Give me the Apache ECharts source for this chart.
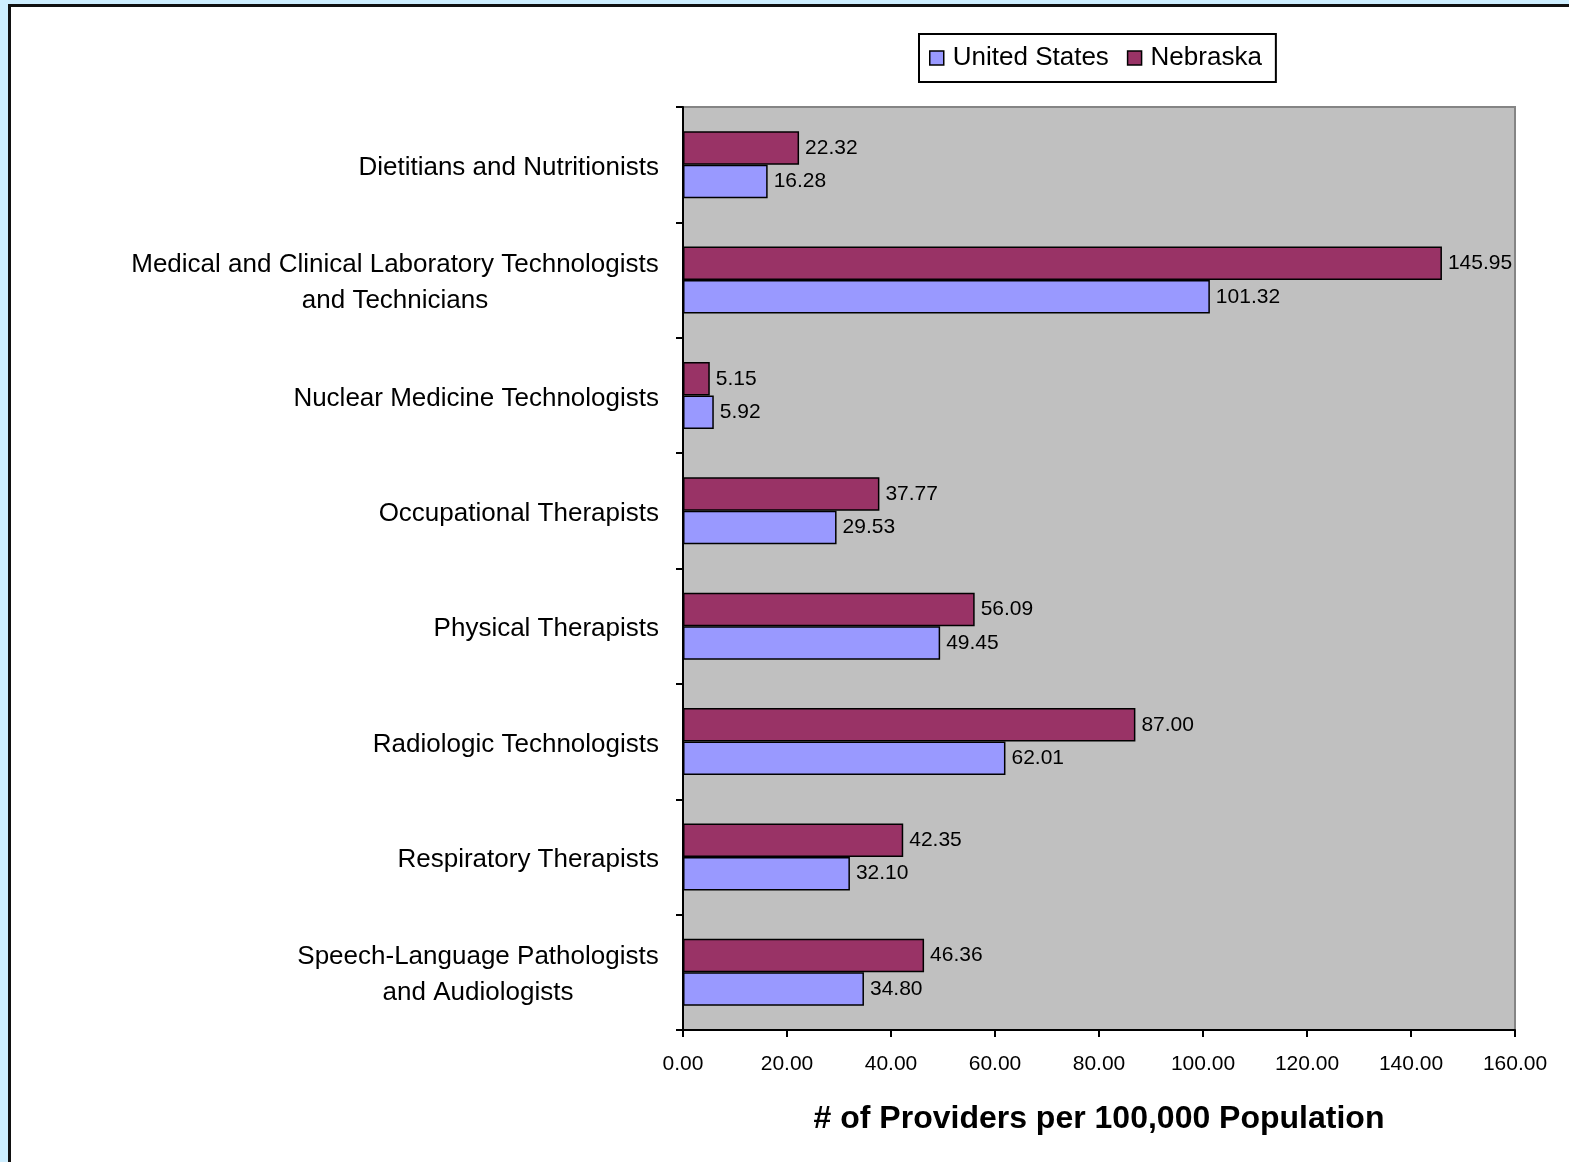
<!DOCTYPE html>
<html>
<head>
<meta charset="utf-8">
<script src="https://cdn.jsdelivr.net/npm/echarts@6/dist/echarts.min.js"></script>
<style>
  html, body { margin: 0; padding: 0; background: #cdeeff; overflow: hidden; }
  #frame { position: absolute; left: 8px; top: 4px; width: 1600px; height: 1200px; background: #fff; border: 3px solid #111; box-sizing: border-box; }
  #chart { position: absolute; left: 0; top: 0; width: 1569px; height: 1162px; }
</style>
</head>
<body>
<div id="frame"></div>
<div id="chart"></div>
<script>
const categories = [
  'Dietitians and Nutritionists',
  'Medical and Clinical Laboratory Technologists\nand Technicians',
  'Nuclear Medicine Technologists',
  'Occupational Therapists',
  'Physical Therapists',
  'Radiologic Technologists',
  'Respiratory Therapists',
  'Speech-Language Pathologists\nand Audiologists'
];
const usValues = [16.28, 101.32, 5.92, 29.53, 49.45, 62.01, 32.10, 34.80];
const nebraskaValues = [22.32, 145.95, 5.15, 37.77, 56.09, 87.00, 42.35, 46.36];
const seriesNames = ['United States', 'Nebraska'];
const xAxisName = '# of Providers per 100,000 Population';

const FONT = 'Liberation Sans, Arial, sans-serif';
const catFontSize = 26;

// measure text to center multi-line labels
const cv = document.createElement('canvas').getContext('2d');
cv.font = catFontSize + 'px ' + FONT;
function measure(t) { return Math.ceil(cv.measureText(t).width); }

const rich = {};
const catFormatted = categories.map(function (c, i) {
  const lines = c.split('\n');
  if (lines.length === 1) return c;
  const w = Math.max.apply(null, lines.map(measure));
  const key = 'm' + i;
  rich[key] = { width: w, align: 'center', fontSize: catFontSize, fontFamily: FONT, color: '#000', lineHeight: 36 };
  return lines.map(function (l) { return '{' + key + '|' + l + '}'; }).join('\n');
});

const chart = echarts.init(document.getElementById('chart'), null, { renderer: 'canvas' });
const option = {
  backgroundColor: 'transparent',
  animation: false,
  textStyle: { fontFamily: FONT },
  legend: {
    data: seriesNames,
    left: 919,
    top: 34,
    orient: 'horizontal',
    backgroundColor: '#fff',
    borderColor: '#000',
    borderWidth: 2,
    borderRadius: 0,
    padding: [11, 14, 11, 10],
    itemWidth: 14,
    itemHeight: 14,
    itemGap: 18,
    icon: 'rect',
    textStyle: { fontSize: 26, color: '#000', fontFamily: FONT, padding: [0, 0, 0, 4] },
    itemStyle: { borderColor: '#000', borderWidth: 1.5 }
  },
  grid: {
    left: 683,
    right: 54,
    top: 107,
    bottom: 132,
    show: true,
    backgroundColor: '#c0c0c0',
    borderColor: '#858585',
    borderWidth: 2
  },
  xAxis: {
    type: 'value',
    min: 0,
    max: 160,
    interval: 20,
    name: xAxisName,
    nameLocation: 'middle',
    nameGap: 73,
    nameTextStyle: { fontSize: 32, fontWeight: 'bold', color: '#000', fontFamily: FONT },
    axisLine: { show: true, lineStyle: { color: '#000', width: 2 } },
    axisTick: { show: true, length: 7, lineStyle: { color: '#000', width: 2 } },
    axisLabel: {
      fontSize: 21, color: '#000', margin: 24, fontFamily: FONT,
      formatter: function (v) { return v.toFixed(2); }
    },
    splitLine: { show: false }
  },
  yAxis: {
    type: 'category',
    inverse: true,
    data: categories,
    axisLine: { show: true, lineStyle: { color: '#000', width: 2 } },
    axisTick: { show: true, length: 7, lineStyle: { color: '#000', width: 2 } },
    axisLabel: {
      fontSize: catFontSize, color: '#000', margin: 24, fontFamily: FONT, lineHeight: 36,
      padding: [6, 0, 0, 0],
      formatter: function (v, i) { return catFormatted[i]; },
      rich: rich
    }
  },
  series: [
    {
      name: 'Nebraska',
      type: 'bar',
      data: nebraskaValues,
      barGap: '0%',
      barCategoryGap: '42%',
      itemStyle: { color: '#993366', borderColor: '#000', borderWidth: 1.5 },
      label: {
        show: true, position: 'right', distance: 6, fontSize: 21, color: '#000', fontFamily: FONT,
        formatter: function (p) { return p.value.toFixed(2); }
      }
    },
    {
      name: 'United States',
      type: 'bar',
      data: usValues,
      barGap: '0%',
      barCategoryGap: '42%',
      itemStyle: { color: '#9999ff', borderColor: '#000', borderWidth: 1.5 },
      label: {
        show: true, position: 'right', distance: 6, fontSize: 21, color: '#000', fontFamily: FONT,
        formatter: function (p) { return p.value.toFixed(2); }
      }
    }
  ]
};
chart.setOption(option);
</script>
</body>
</html>
